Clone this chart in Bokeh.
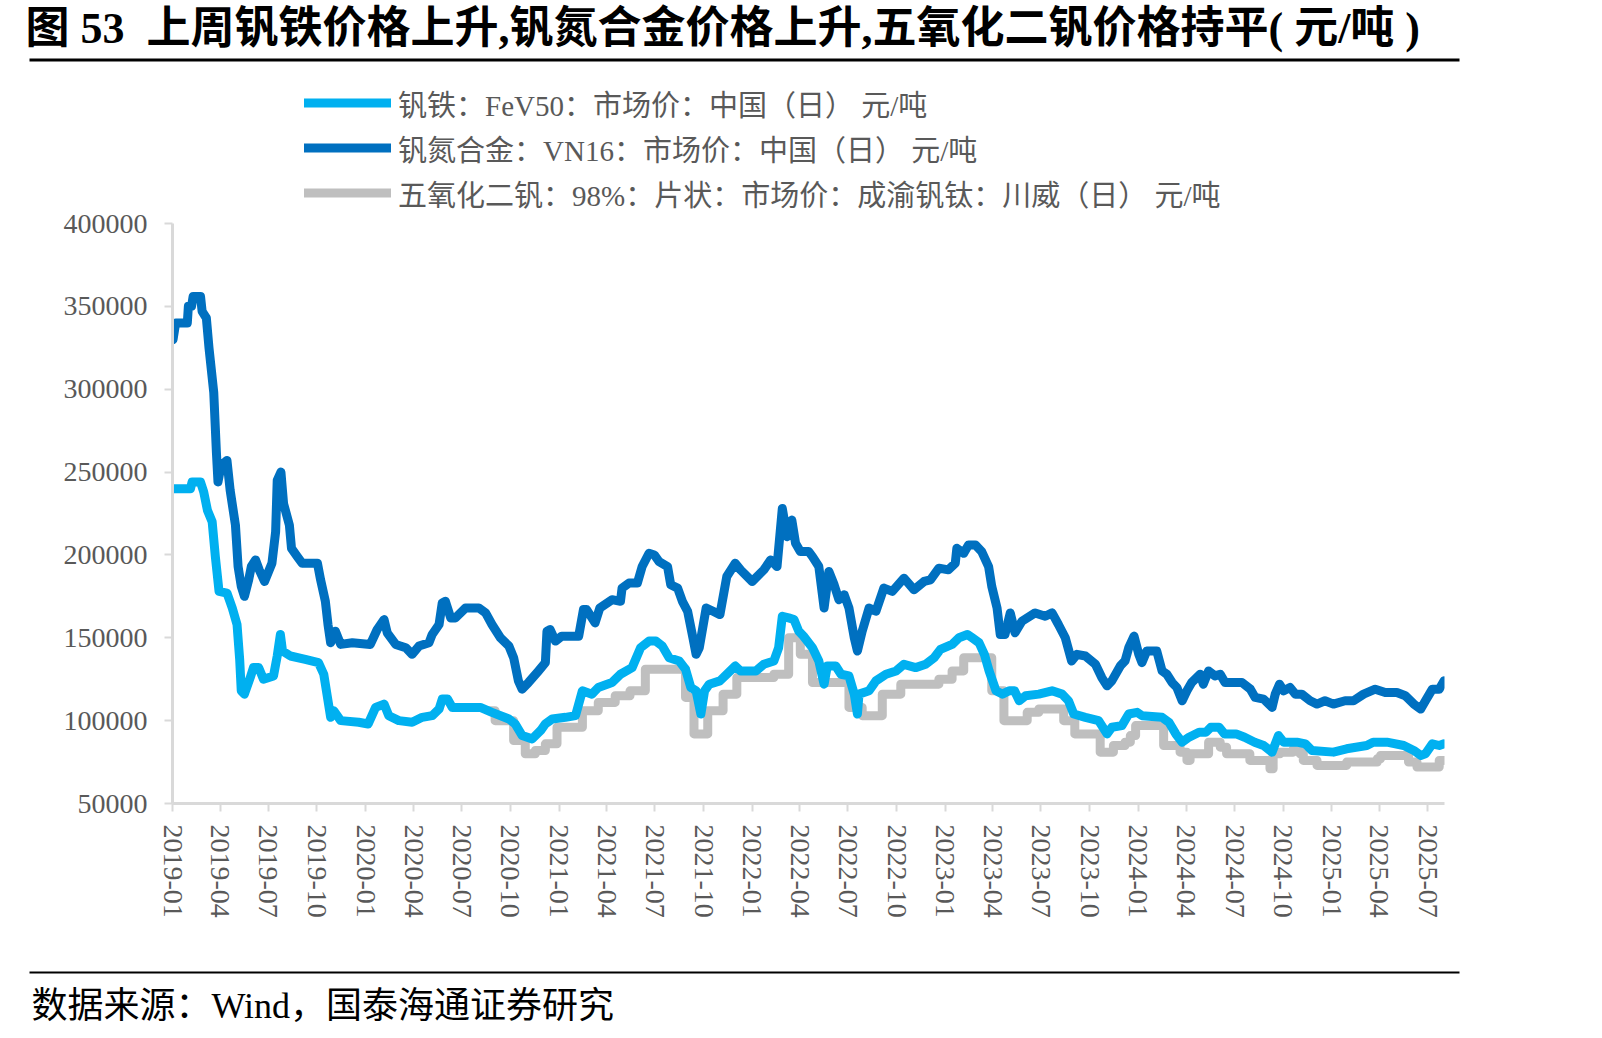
import pandas as pd
from bokeh.plotting import figure
from bokeh.layouts import column
from bokeh.models import (Range1d, FixedTicker, DatetimeTickFormatter, NumeralTickFormatter,
                          Label, BoxAnnotation, Legend, LegendItem, ColumnDataSource)
from bokeh.embed import file_html
from bokeh.resources import INLINE

# ---------------------------------------------------------------- data
title_text = "图 53\u00a0\u00a0上周钒铁价格上升,钒氮合金价格上升,五氧化二钒价格持平( 元/吨 )"
source_text = "数据来源：Wind，国泰海通证券研究"

name_fev = "钒铁：FeV50：市场价：中国（日） 元/吨"
name_vn = "钒氮合金：VN16：市场价：中国（日） 元/吨"
name_v2o5 = "五氧化二钒：98%：片状：市场价：成渝钒钛：川威（日） 元/吨"

vn_dates = [
    "2019-01-02", "2019-01-07", "2019-01-29", "2019-01-31", "2019-02-06", "2019-02-09", "2019-02-23",
    "2019-02-26", "2019-03-06", "2019-03-11", "2019-03-20", "2019-03-25", "2019-03-28", "2019-04-03",
    "2019-04-14", "2019-04-20", "2019-04-30", "2019-05-05", "2019-05-11", "2019-05-17", "2019-05-25",
    "2019-05-30", "2019-06-07", "2019-06-14", "2019-06-24", "2019-07-08", "2019-07-15", "2019-07-18",
    "2019-07-25", "2019-07-30", "2019-08-10", "2019-08-14", "2019-08-25", "2019-09-03", "2019-10-02",
    "2019-10-08", "2019-10-17", "2019-10-22", "2019-10-27", "2019-11-05", "2019-11-15", "2019-12-07",
    "2020-01-10", "2020-01-23", "2020-02-05", "2020-02-11", "2020-02-27", "2020-03-17", "2020-03-29",
    "2020-04-11", "2020-04-30", "2020-05-06", "2020-05-19", "2020-05-25", "2020-05-31", "2020-06-10",
    "2020-06-19", "2020-07-08", "2020-08-02", "2020-08-15", "2020-08-27", "2020-09-12", "2020-09-28",
    "2020-10-07", "2020-10-16", "2020-10-23", "2020-11-04", "2020-11-23", "2020-12-06", "2020-12-09",
    "2020-12-15", "2020-12-25", "2021-01-06", "2021-02-07", "2021-02-16", "2021-02-22", "2021-03-10",
    "2021-03-19", "2021-04-11", "2021-04-27", "2021-04-30", "2021-05-13", "2021-05-29", "2021-06-07",
    "2021-06-20", "2021-06-30", "2021-07-09", "2021-07-25", "2021-07-31", "2021-08-13", "2021-08-22",
    "2021-09-01", "2021-09-11", "2021-09-17", "2021-09-23", "2021-10-06", "2021-10-19", "2021-11-01",
    "2021-11-14", "2021-11-30", "2021-12-10", "2022-01-01", "2022-01-23", "2022-02-05", "2022-02-17",
    "2022-02-27", "2022-03-08", "2022-03-17", "2022-03-24", "2022-04-02", "2022-04-18", "2022-04-25",
    "2022-05-07", "2022-05-17", "2022-05-26", "2022-06-05", "2022-06-14", "2022-06-24", "2022-07-03",
    "2022-07-13", "2022-07-19", "2022-07-28", "2022-08-10", "2022-08-23", "2022-09-07", "2022-09-23",
    "2022-10-15", "2022-11-03", "2022-11-22", "2022-12-04", "2022-12-20", "2023-01-07", "2023-01-20",
    "2023-01-23", "2023-02-05", "2023-02-14", "2023-02-27", "2023-03-11", "2023-03-24", "2023-03-30",
    "2023-04-09", "2023-04-15", "2023-04-24", "2023-05-04", "2023-05-13", "2023-05-26", "2023-06-20",
    "2023-07-09", "2023-07-22", "2023-08-03", "2023-08-16", "2023-08-28", "2023-09-07", "2023-09-23",
    "2023-10-12", "2023-10-24", "2023-11-03", "2023-11-12", "2023-11-28", "2023-12-07", "2023-12-14",
    "2023-12-24", "2024-01-02", "2024-01-08", "2024-01-17", "2024-02-05", "2024-02-15", "2024-02-24",
    "2024-03-05", "2024-03-14", "2024-03-24", "2024-04-02", "2024-04-11", "2024-04-27", "2024-05-03",
    "2024-05-13", "2024-05-25", "2024-06-04", "2024-06-13", "2024-07-15", "2024-07-31", "2024-08-09",
    "2024-08-25", "2024-09-10", "2024-09-16", "2024-09-24", "2024-10-02", "2024-10-14", "2024-10-24",
    "2024-11-05", "2024-11-21", "2024-12-04", "2024-12-19", "2025-01-04", "2025-01-26", "2025-02-11",
    "2025-03-02", "2025-03-24", "2025-04-12", "2025-05-04", "2025-05-20", "2025-06-05", "2025-06-18",
    "2025-06-27", "2025-07-10", "2025-07-23", "2025-08-01",
]
vn_values = [
    330000, 340000, 340000, 350000, 350000, 356000, 356000,
    347000, 343000, 325000, 298000, 262000, 244000, 254000,
    257000, 239000, 218000, 193000, 181000, 175000, 185000,
    193000, 197000, 191000, 184000, 195000, 214000, 245000,
    250000, 231000, 218000, 204000, 199000, 195000, 195000,
    185000, 172000, 158000, 147000, 154000, 146000, 147000,
    146000, 155000, 161000, 153000, 146000, 144000, 140000,
    145000, 147000, 152000, 158000, 171000, 172000, 162000,
    162000, 168000, 168000, 165000, 158000, 150000, 145000,
    138000, 124000, 119000, 123000, 130000, 135000, 154000,
    155000, 148000, 151000, 151000, 167000, 167000, 159000,
    168000, 173000, 172000, 180000, 183000, 183000, 193000,
    201000, 200000, 196000, 193000, 182000, 180000, 172000,
    166000, 150000, 140000, 144000, 168000, 166000, 164000,
    187000, 195000, 191000, 184000, 191000, 197000, 193000,
    228000, 211000, 221000, 207000, 202000, 202000, 199000,
    193000, 168000, 190000, 182000, 173000, 176000, 168000,
    150000, 142000, 154000, 168000, 166000, 180000, 178000,
    186000, 179000, 184000, 185000, 192000, 191000, 195000,
    204000, 201000, 206000, 206000, 202000, 193000, 181000,
    168000, 152000, 152000, 165000, 153000, 160000, 165000,
    163000, 165000, 158000, 150000, 136000, 140000, 139000,
    134000, 126000, 121000, 124000, 133000, 136000, 144000,
    151000, 140000, 135000, 142000, 142000, 130000, 128000,
    123000, 120000, 112000, 118000, 123000, 128000, 122000,
    130000, 127000, 128000, 123000, 123000, 119000, 114000,
    113000, 108000, 116000, 122000, 118000, 120000, 116000,
    116000, 112000, 110000, 112000, 110000, 112000, 112000,
    116000, 119000, 117000, 117000, 115000, 110000, 107000,
    112000, 119000, 119000, 124000,
]

fev_dates = [
    "2019-01-02", "2019-02-04", "2019-02-07", "2019-02-23", "2019-03-01", "2019-03-08", "2019-03-17",
    "2019-03-23", "2019-03-30", "2019-04-14", "2019-04-24", "2019-05-03", "2019-05-08", "2019-05-11",
    "2019-05-17", "2019-05-28", "2019-06-03", "2019-06-13", "2019-06-22", "2019-07-11", "2019-07-18",
    "2019-07-24", "2019-07-28", "2019-08-12", "2019-09-09", "2019-10-04", "2019-10-14", "2019-10-20",
    "2019-10-27", "2019-11-02", "2019-11-15", "2019-12-19", "2020-01-06", "2020-01-20", "2020-02-05",
    "2020-02-14", "2020-03-04", "2020-03-29", "2020-04-17", "2020-05-06", "2020-05-19", "2020-05-25",
    "2020-06-04", "2020-06-13", "2020-08-05", "2020-08-27", "2020-09-28", "2020-10-10", "2020-10-23",
    "2020-11-11", "2020-11-27", "2020-12-06", "2020-12-19", "2021-01-13", "2021-02-01", "2021-02-14",
    "2021-03-04", "2021-03-16", "2021-04-11", "2021-04-27", "2021-05-19", "2021-06-04", "2021-06-20",
    "2021-07-03", "2021-07-15", "2021-07-28", "2021-08-16", "2021-08-28", "2021-09-07", "2021-09-17",
    "2021-09-26", "2021-10-03", "2021-10-12", "2021-11-01", "2021-11-14", "2021-11-30", "2021-12-10",
    "2022-01-08", "2022-01-23", "2022-02-11", "2022-02-20", "2022-02-27", "2022-03-11", "2022-03-21",
    "2022-03-30", "2022-04-08", "2022-04-25", "2022-05-07", "2022-05-17", "2022-05-23", "2022-06-08",
    "2022-06-18", "2022-07-03", "2022-07-13", "2022-07-19", "2022-07-22", "2022-08-10", "2022-08-23",
    "2022-09-11", "2022-09-30", "2022-10-15", "2022-11-06", "2022-11-25", "2022-12-11", "2022-12-23",
    "2023-01-14", "2023-01-27", "2023-02-12", "2023-02-21", "2023-03-06", "2023-03-16", "2023-03-25",
    "2023-04-07", "2023-04-19", "2023-05-02", "2023-05-12", "2023-05-21", "2023-06-02", "2023-06-27",
    "2023-07-22", "2023-08-10", "2023-08-22", "2023-09-01", "2023-09-23", "2023-10-18", "2023-11-03",
    "2023-11-12", "2023-12-01", "2023-12-14", "2023-12-30", "2024-01-08", "2024-02-15", "2024-02-28",
    "2024-03-12", "2024-03-24", "2024-04-06", "2024-04-25", "2024-05-08", "2024-05-17", "2024-06-02",
    "2024-06-12", "2024-07-04", "2024-07-20", "2024-08-08", "2024-08-25", "2024-09-10", "2024-09-22",
    "2024-10-02", "2024-10-27", "2024-11-12", "2024-11-24", "2025-01-04", "2025-01-29", "2025-03-08",
    "2025-03-20", "2025-04-15", "2025-05-17", "2025-06-05", "2025-06-18", "2025-06-27", "2025-07-10",
    "2025-07-23", "2025-08-01",
]
fev_values = [
    240000, 240000, 244000, 244000, 238000, 227000, 220000,
    199000, 178000, 177000, 168000, 158000, 137000, 118000,
    116000, 126000, 132000, 132000, 125000, 127000, 139000,
    152000, 142000, 139000, 137000, 135000, 128000, 116000,
    102000, 106000, 100000, 99000, 98000, 108000, 110000,
    103000, 100000, 99000, 102000, 103000, 107000, 113000,
    113000, 108000, 108000, 105000, 101000, 98000, 91000,
    89000, 94000, 98000, 101000, 102000, 103000, 118000,
    116000, 120000, 123000, 128000, 132000, 144000, 148000,
    148000, 145000, 138000, 136000, 131000, 120000, 118000,
    104000, 118000, 122000, 124000, 128000, 133000, 130000,
    130000, 134000, 136000, 144000, 163000, 162000, 161000,
    154000, 151000, 144000, 136000, 122000, 133000, 133000,
    128000, 127000, 116000, 104000, 116000, 118000, 124000,
    128000, 130000, 134000, 132000, 134000, 138000, 143000,
    146000, 150000, 152000, 150000, 147000, 140000, 130000,
    118000, 116000, 118000, 118000, 112000, 115000, 116000,
    118000, 116000, 112000, 104000, 102000, 100000, 92000,
    96000, 97000, 104000, 105000, 103000, 102000, 99000,
    92000, 87000, 90000, 93000, 93000, 96000, 96000,
    92000, 92000, 90000, 87000, 85000, 81000, 91000,
    87000, 87000, 86000, 82000, 81000, 83000, 85000,
    87000, 87000, 85000, 82000, 79000, 80000, 86000,
    85000, 86000,
]

# V2O5 is quoted in discrete steps: each date marks a new price level
v2o5_dates = [
    "2020-08-24", "2020-09-02", "2020-10-07", "2020-10-29", "2020-11-17", "2020-12-06", "2020-12-28",
    "2021-02-14", "2021-03-16", "2021-04-17", "2021-05-15", "2021-06-13", "2021-08-28", "2021-09-13",
    "2021-10-09", "2021-11-07", "2021-12-03", "2022-02-11", "2022-03-11", "2022-04-02", "2022-04-25",
    "2022-07-03", "2022-07-28", "2022-09-04", "2022-10-09", "2022-12-20", "2023-01-14", "2023-02-05",
    "2023-03-30", "2023-04-22", "2023-06-05", "2023-06-27", "2023-08-13", "2023-09-03", "2023-10-21",
    "2023-11-15", "2023-12-07", "2023-12-17", "2023-12-27", "2024-02-18", "2024-03-20", "2024-04-02",
    "2024-04-08", "2024-05-13", "2024-06-04", "2024-06-16", "2024-07-30", "2024-09-06", "2024-09-12",
    "2024-09-25", "2024-10-20", "2024-11-02", "2024-11-08", "2024-12-04", "2025-01-29", "2025-03-28",
    "2025-04-03", "2025-05-26", "2025-06-11", "2025-07-23", "2025-08-01",
]
v2o5_values = [
    106000, 100000, 88000, 80000, 82000, 86000, 96000,
    106000, 111000, 115000, 118000, 131000, 114000, 92000,
    106000, 116000, 126000, 128000, 150000, 140000, 123000,
    108000, 103000, 116000, 122000, 125000, 130000, 138000,
    118000, 100000, 105000, 107000, 100000, 92000, 81000,
    85000, 87000, 91000, 97000, 85000, 81000, 76000,
    80000, 87000, 84000, 80000, 76000, 71000, 80000,
    81000, 83000, 80000, 76000, 73000, 75000, 77000,
    79000, 75000, 72000, 76000, 76000,
]

x_tick_labels = [f"{y}-{m:02d}" for y in range(2019, 2026) for m in (1, 4, 7, 10)][:27]
y_ticks = [50000, 100000, 150000, 200000, 250000, 300000, 350000, 400000]
y_axis_span = (50000, 400000)

# ---------------------------------------------------------------- styling
C_FEV = "#00B0F0"
C_VN = "#0070C0"
C_V2O5 = "#BFBFBF"
AXIS_GREY = "#D9D9D9"
LABEL_GREY = "#595959"
SERIF = "Liberation Serif, Noto Sans CJK SC"
LINE_W = 9

W = 1602
TOP_H, MAIN_H, BOT_H = 75, 885, 78   # three stacked bands, 1038 px in total
FRAME_LEFT, FRAME_RIGHT, FRAME_BOTTOM = 172, 158, 157
AXIS_PX = 580                         # height of the 50000..400000 axis in pixels
frame_h = MAIN_H - FRAME_BOTTOM
# the frame reaches up to the heading rule so the legend can sit above the axis top
y_top = y_axis_span[0] + (y_axis_span[1] - y_axis_span[0]) * frame_h / AXIS_PX


def blank_band(height):
    """A figure whose frame is the whole band, with pixel coordinates from the top-left."""
    f = figure(width=W, height=height, x_range=Range1d(0, W), y_range=Range1d(height, 0),
               output_backend="svg", toolbar_location=None,
               x_axis_location=None, y_axis_location=None, frame_align=False,
               min_border=0, min_border_left=0, min_border_right=0,
               min_border_top=0, min_border_bottom=0)
    f.outline_line_color = None
    f.grid.visible = False
    f.background_fill_color = "white"
    f.border_fill_color = "white"
    return f


# ---------------------------------------------------------------- heading band: title and rule
top = blank_band(TOP_H)
top.add_layout(Label(x=25, y=28, text=title_text, text_font=SERIF, text_font_style="bold",
                     text_font_size="44px", text_color="black", text_baseline="middle"))
top.add_layout(BoxAnnotation(left=29, right=1459, top=58, bottom=61,
                             fill_color="black", fill_alpha=1, line_alpha=0))

# ---------------------------------------------------------------- main chart
p = figure(width=W, height=MAIN_H, x_axis_type="datetime",
           x_range=Range1d(pd.Timestamp("2019-01-01"), pd.Timestamp("2025-08-02")),
           y_range=Range1d(y_axis_span[0], y_top),
           output_backend="svg", toolbar_location=None, frame_align=False,
           min_border_left=FRAME_LEFT, min_border_right=FRAME_RIGHT,
           min_border_top=0, min_border_bottom=FRAME_BOTTOM)
p.outline_line_color = None
p.xgrid.visible = False
p.ygrid.visible = False
p.background_fill_color = "white"
p.border_fill_color = "white"

fev_src = ColumnDataSource(dict(x=pd.to_datetime(fev_dates), y=fev_values))
vn_src = ColumnDataSource(dict(x=pd.to_datetime(vn_dates), y=vn_values))
v2o5_src = ColumnDataSource(dict(x=pd.to_datetime(v2o5_dates), y=v2o5_values))

r_v2o5 = p.step("x", "y", source=v2o5_src, mode="after", line_color=C_V2O5, line_width=LINE_W,
                line_join="round", line_cap="round")
r_fev = p.line("x", "y", source=fev_src, line_color=C_FEV, line_width=LINE_W,
               line_join="round", line_cap="round")
r_vn = p.line("x", "y", source=vn_src, line_color=C_VN, line_width=LINE_W,
              line_join="round", line_cap="round")

# legend: top of its block 80 px below the page top, i.e. 5 px into this figure's frame
legend_top = 80 - TOP_H
legend = Legend(items=[LegendItem(label=name_fev, renderers=[r_fev]),
                       LegendItem(label=name_vn, renderers=[r_vn]),
                       LegendItem(label=name_v2o5, renderers=[r_v2o5])],
                location=(304 - FRAME_LEFT, frame_h - legend_top - 135), orientation="vertical",
                glyph_width=87, glyph_height=45, label_height=45, spacing=0,
                label_standoff=7, padding=0, margin=0,
                label_text_font=SERIF, label_text_font_size="29px",
                label_text_color=LABEL_GREY,
                border_line_alpha=0, background_fill_alpha=0)
p.add_layout(legend)

xa = p.xaxis[0]
xa.ticker = FixedTicker(ticks=[pd.Timestamp(t + "-01").value / 1e6 for t in x_tick_labels])
fmt = "%Y-%m"
xa.formatter = DatetimeTickFormatter(microseconds=fmt, milliseconds=fmt, seconds=fmt, minsec=fmt,
                                     minutes=fmt, hourmin=fmt, hours=fmt, days=fmt,
                                     months=fmt, years=fmt)
xa.major_label_orientation = "vertical"
xa.major_label_text_font = SERIF
xa.major_label_text_font_size = "28px"
xa.major_label_text_color = LABEL_GREY
xa.major_label_standoff = 13
xa.axis_line_color = AXIS_GREY
xa.axis_line_width = 3
xa.major_tick_line_color = AXIS_GREY
xa.major_tick_line_width = 2
xa.major_tick_out = 8
xa.major_tick_in = 0
xa.minor_tick_line_color = None

ya = p.yaxis[0]
ya.bounds = y_axis_span
ya.ticker = FixedTicker(ticks=y_ticks)
ya.formatter = NumeralTickFormatter(format="0")
ya.major_label_text_font = SERIF
ya.major_label_text_font_size = "28px"
ya.major_label_text_color = LABEL_GREY
ya.major_label_standoff = 17
ya.axis_line_color = AXIS_GREY
ya.axis_line_width = 3
ya.major_tick_line_color = AXIS_GREY
ya.major_tick_line_width = 2
ya.major_tick_out = 8
ya.major_tick_in = 0
ya.minor_tick_line_color = None

# ---------------------------------------------------------------- footer band: rule and source
bot = blank_band(BOT_H)
bot.add_layout(BoxAnnotation(left=29, right=1459, top=11, bottom=13,
                             fill_color="black", fill_alpha=1, line_alpha=0))
bot.add_layout(Label(x=31, y=45, text=source_text, text_font=SERIF,
                     text_font_size="36px", text_color="black", text_baseline="middle"))

page = column(top, p, bot, spacing=0)
open("out.html", "w").write(file_html(page, INLINE))
